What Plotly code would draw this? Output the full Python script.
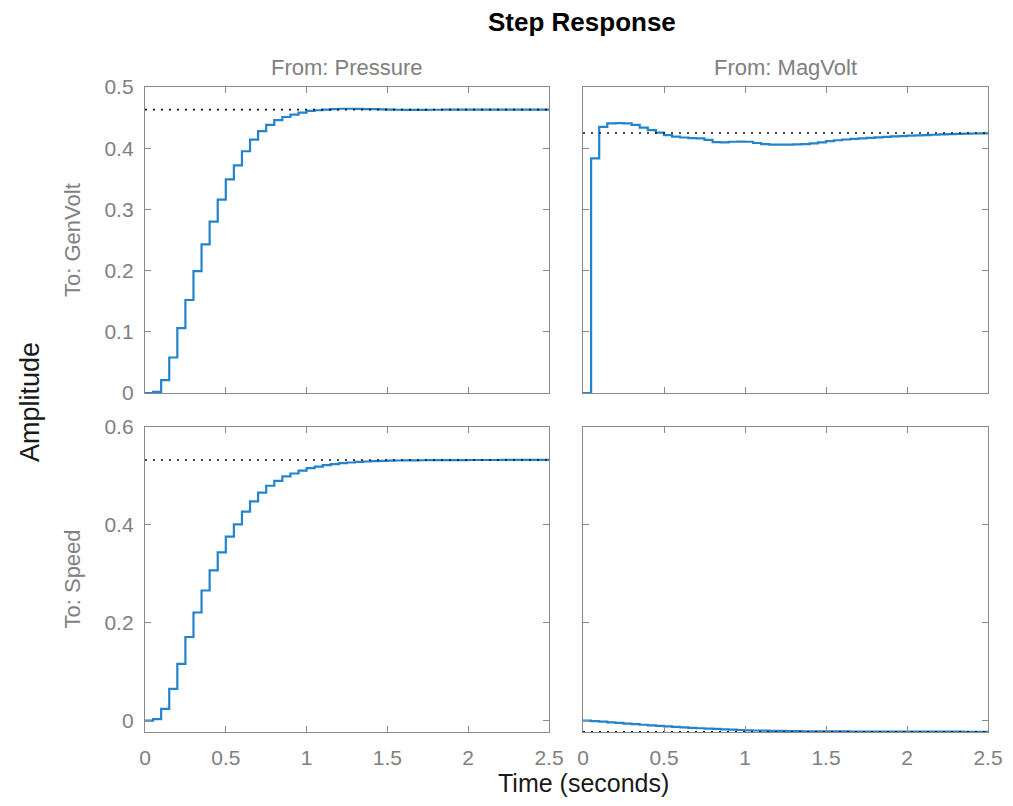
import plotly.graph_objects as go

# ---------------- data ----------------
time_s = [round(0.05 * k, 2) for k in range(51)]

genvolt_from_pressure = [
    0.000, 0.002, 0.021, 0.058, 0.106, 0.152, 0.199, 0.243, 0.280, 0.316,
    0.349, 0.372, 0.395, 0.414, 0.428, 0.438, 0.446, 0.451, 0.455, 0.458,
    0.461, 0.462, 0.463, 0.464, 0.4645, 0.4645, 0.4643, 0.4640, 0.4637, 0.4633,
    0.4630, 0.4628, 0.4627, 0.4627, 0.4627, 0.4628, 0.4628, 0.4629, 0.4629, 0.4630,
    0.4630, 0.4630, 0.4630, 0.4630, 0.4630, 0.4630, 0.4630, 0.4630, 0.4630, 0.4630,
    0.4630]

genvolt_from_magvolt = [
    0.000, 0.3835, 0.435, 0.4405, 0.441, 0.4405, 0.438, 0.4335, 0.4295, 0.4255,
    0.4215, 0.419, 0.4175, 0.4165, 0.416, 0.4135, 0.4100, 0.4095, 0.4105, 0.4108,
    0.4105, 0.4085, 0.4065, 0.4058, 0.4058, 0.4060, 0.4062, 0.4068, 0.4078, 0.4095,
    0.4115, 0.4130, 0.4142, 0.4152, 0.4162, 0.4170, 0.4178, 0.4185, 0.4192, 0.4198,
    0.4204, 0.4210, 0.4215, 0.4220, 0.4225, 0.4229, 0.4233, 0.4237, 0.4240, 0.4243,
    0.4245]

speed_from_pressure = [
    0.000, 0.003, 0.024, 0.065, 0.116, 0.171, 0.221, 0.266, 0.307, 0.344,
    0.376, 0.401, 0.427, 0.448, 0.466, 0.480, 0.490, 0.499, 0.505, 0.511,
    0.516, 0.519, 0.522, 0.524, 0.526, 0.5275, 0.5286, 0.5295, 0.5303, 0.5308,
    0.5313, 0.5316, 0.5318, 0.5320, 0.5321, 0.5322, 0.5323, 0.5324, 0.5325, 0.5325,
    0.5326, 0.5326, 0.5326, 0.5326, 0.5327, 0.5327, 0.5327, 0.5327, 0.5327, 0.5327,
    0.5327]

speed_from_magvolt = [
    0.0000, -0.0008, -0.0020, -0.0033, -0.0045, -0.0058, -0.0070, -0.0083, -0.0095, -0.0107,
    -0.0118, -0.0128, -0.0137, -0.0146, -0.0154, -0.0162, -0.0169, -0.0176, -0.0183, -0.0190,
    -0.0196, -0.0200, -0.0204, -0.0207, -0.0210, -0.0212, -0.0214, -0.0216, -0.0217, -0.0218,
    -0.0219, -0.0220, -0.0220, -0.0221, -0.0221, -0.0222, -0.0222, -0.0223, -0.0223, -0.0223,
    -0.0224, -0.0224, -0.0224, -0.0225, -0.0225, -0.0225, -0.0225, -0.0226, -0.0226, -0.0226,
    -0.0226]

steady_state = {
    "genvolt_from_pressure": 0.463,
    "genvolt_from_magvolt": 0.4248,
    "speed_from_pressure": 0.5327,
    "speed_from_magvolt": -0.0227,
}

x_ticks = [0, 0.5, 1, 1.5, 2, 2.5]
x_tick_text = ["0", "0.5", "1", "1.5", "2", "2.5"]
y_ticks_top = [0, 0.1, 0.2, 0.3, 0.4, 0.5]
y_tick_text_top = ["0", "0.1", "0.2", "0.3", "0.4", "0.5"]
y_ticks_bottom = [0, 0.2, 0.4, 0.6]
y_tick_text_bottom = ["0", "0.2", "0.4", "0.6"]

input_names = ["From: Pressure", "From: MagVolt"]
output_names = ["To: GenVolt", "To: Speed"]

# ---------------- figure ----------------
PAGE_OFF = 8                      # default body margin of the html page
W, H = 1013 - 2 * PAGE_OFF, 806 - 2 * PAGE_OFF
LINE = "#2383cb"
AX = "#8a8a8a"
FONT = "Liberation Sans, Arial, sans-serif"
TICKFONT = dict(family=FONT, size=21, color="#808080")


def fx(px):
    return (px - PAGE_OFF) / W


def fy(py):
    return 1 - (py - PAGE_OFF) / H


panels = [
    ("x", "y", genvolt_from_pressure, steady_state["genvolt_from_pressure"]),
    ("x2", "y2", genvolt_from_magvolt, steady_state["genvolt_from_magvolt"]),
    ("x3", "y3", speed_from_pressure, steady_state["speed_from_pressure"]),
    ("x4", "y4", speed_from_magvolt, steady_state["speed_from_magvolt"]),
]

fig = go.Figure()
for xa, ya, vals, ss in panels:
    fig.add_trace(go.Scatter(x=time_s, y=vals, xaxis=xa, yaxis=ya, mode="lines",
                             line=dict(color=LINE, width=2.2, shape="hv"),
                             showlegend=False, hoverinfo="skip"))
    fig.add_trace(go.Scatter(x=[x_ticks[0], x_ticks[-1]], y=[ss, ss], xaxis=xa, yaxis=ya,
                             mode="lines", line=dict(color="#111111", width=1.6, dash="2px,6px"),
                             showlegend=False, hoverinfo="skip"))

xcol = [[fx(145), fx(549)], [fx(583), fx(988)]]
yrow = [[fy(393), fy(87)], [fy(732), fy(427)]]

base = dict(showline=True, mirror="allticks", linecolor=AX, linewidth=1.3,
            ticks="inside", ticklen=6, tickcolor=AX, tickwidth=1.3,
            showgrid=False, zeroline=False, tickfont=TICKFONT, fixedrange=True,
            automargin=False)

layout = dict(
    width=W, height=H, margin=dict(l=0, r=0, t=0, b=0),
    paper_bgcolor="white", plot_bgcolor="white", showlegend=False,
)

axes_spec = [
    ("xaxis", "yaxis", 0, 0, False, True, y_ticks_top, y_tick_text_top, [0, 0.5]),
    ("xaxis2", "yaxis2", 1, 0, False, False, y_ticks_top, y_tick_text_top, [0, 0.5]),
    ("xaxis3", "yaxis3", 0, 1, True, True, y_ticks_bottom, y_tick_text_bottom, [-0.0231, 0.6]),
    ("xaxis4", "yaxis4", 1, 1, True, False, y_ticks_bottom, y_tick_text_bottom, [-0.0231, 0.6]),
]
for i, (xn, yn, c, r, sx, sy, yt, ytt, yr) in enumerate(axes_spec):
    anchor_x = "y" if i == 0 else f"y{i+1}"
    anchor_y = "x" if i == 0 else f"x{i+1}"
    layout[xn] = dict(base, domain=xcol[c], anchor=anchor_x, range=[0, 2.5],
                      tickvals=x_ticks, ticktext=x_tick_text, showticklabels=sx,
                      ticklabelstandoff=7)
    layout[yn] = dict(base, domain=yrow[r], anchor=anchor_y, range=yr,
                      tickvals=yt, ticktext=ytt, showticklabels=sy,
                      ticklabelstandoff=6)

fig.update_layout(**layout)

ann = []
ann.append(dict(text="<b>Step Response</b>", x=fx(582), y=fy(22), xref="paper", yref="paper",
                showarrow=False, xanchor="center", yanchor="middle",
                font=dict(family=FONT, size=26, color="#000000")))
for c, name in enumerate(input_names):
    ann.append(dict(text=name, x=sum(xcol[c]) / 2, y=fy(68), xref="paper", yref="paper",
                    showarrow=False, xanchor="center", yanchor="middle",
                    font=dict(family=FONT, size=22, color="#808080")))
for r, name in enumerate(output_names):
    ann.append(dict(text=name, x=fx(72), y=sum(yrow[r]) / 2, xref="paper", yref="paper",
                    showarrow=False, xanchor="center", yanchor="middle", textangle=-90,
                    font=dict(family=FONT, size=22, color="#808080")))
ann.append(dict(text="Amplitude", x=fx(30), y=fy(402), xref="paper", yref="paper",
                showarrow=False, xanchor="center", yanchor="middle", textangle=-90,
                font=dict(family=FONT, size=27, color="#1a1a1a")))
ann.append(dict(text="Time (seconds)", x=fx(583), y=fy(783), xref="paper", yref="paper",
                showarrow=False, xanchor="center", yanchor="middle",
                font=dict(family=FONT, size=25, color="#1a1a1a")))
fig.update_layout(annotations=ann)

fig.write_html("out.html")
